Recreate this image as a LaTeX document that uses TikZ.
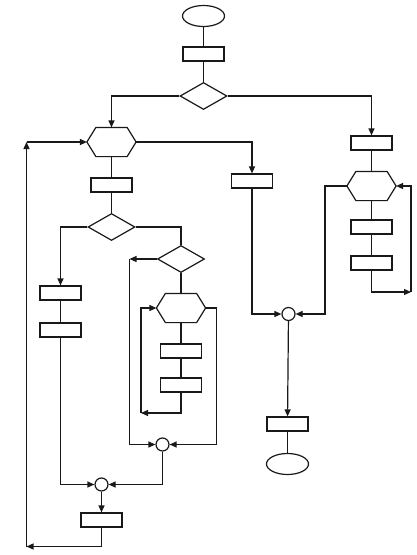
\documentclass[tikz,border=0pt]{standalone}
\usetikzlibrary{shapes.geometric,arrows.meta,calc}
\begin{document}
\begin{tikzpicture}[x=1pt,y=-1pt,
  line width=1.2pt, draw=black!90,
  box/.style={draw, rectangle, minimum width=41pt, minimum height=14pt, inner sep=0pt},
  term/.style={draw, ellipse, minimum width=42pt, minimum height=21pt, inner sep=0pt},
  dec/.style={draw, diamond, minimum width=47pt, minimum height=27pt, inner sep=0pt},
  hexb/.style={rectangle, minimum width=48pt, minimum height=28pt, inner sep=0pt},
  junc/.style={draw, circle, minimum size=13pt, inner sep=0pt},
  arr/.style={-{Triangle[length=7pt,width=6pt]}},
  lin/.style={-}]
\useasboundingbox (0,0) rectangle (417,555);
% nodes
\node[term] (start) at (203.5,16) {};
\node[box] (r0) at (203.5,54) {};
\node[dec] (d0) at (203.5,96) {};
\node[hexb] (h1) at (111.5,142) {};
\node[box] (r1) at (111.5,185) {};
\node[dec] (d1) at (111.5,227) {};
\node[box] (l1) at (60.5,293) {};
\node[box] (l2) at (60.5,330) {};
\node[dec] (d2) at (181,259) {};
\node[hexb] (h2) at (181,308) {};
\node[box] (r3) at (181,351) {};
\node[box] (r4) at (181,385) {};
\node[junc] (c1) at (162.5,444.5) {};
\node[junc] (c2) at (101.5,484.5) {};
\node[box] (rb) at (101.5,520) {};
\node[box] (m1) at (252,181) {};
\node[box] (R1) at (371.5,143) {};
\node[hexb] (h3) at (371.5,186) {};
\node[box] (R2) at (371.5,227) {};
\node[box] (R3) at (371.5,263) {};
\node[junc] (c3) at (288.5,314) {};
\node[box] (e1) at (287.5,424) {};
\node[term] (stop) at (287.5,464) {};
% hexagon outlines
\foreach \n in {h1,h2,h3}{
  \draw ($(\n.north west)+(9,0)$) -- ($(\n.north east)+(-9,0)$) -- (\n.east)
     -- ($(\n.south east)+(-9,0)$) -- ($(\n.south west)+(9,0)$) -- (\n.west) -- cycle;
}
% corner coordinates
\coordinate (cA) at (129.5,259);
\coordinate (cB) at (141,413);
\coordinate (cC) at (216.5,444.5);
\coordinate (cD) at (26.5,546.5);
\coordinate (cE) at (26.5,142);
\coordinate (cF) at (411,292);
\coordinate (cG) at (325,314);
% connectors
\draw (start) -- (r0) -- (d0);
\draw[arr] (d0.west) -| (h1.north);
\draw[arr] (d0.east) -| (R1.north);
\draw (h1) -- (r1) -- (d1);
\draw[arr] (h1.east) -| (m1.north);
\draw[arr] (d1.west) -| (l1.north);
\draw (d1.east) -| (d2.north);
\draw (l1) -- (l2);
\draw[arr] (l2.south) |- (c2.west);
\draw (d2) -- (h2);
\draw[arr] (d2.west) -- (cA);
\draw[arr] (cA) |- (c1.west);
\draw (h2) -- (r3) -- (r4);
\draw[arr] (r4.south) |- (cB);
\draw[arr] (cB) |- (h2.west);
\draw[arr] (h2.east) -| (cC) -- (c1.east);
\draw[arr] (c1.south) |- (c2.east);
\draw[arr] (c2) -- (rb);
\draw[arr] (rb.south) |- (cD);
\draw[arr] (cD) -- (cE);
\draw[arr] (cE) -- (h1.west);
\draw (R1) -- (h3) -- (R2) -- (R3);
\draw[arr] (R3.south) |- (cF);
\draw[arr] (cF) |- (h3.east);
\draw[arr] (h3.west) -| (cG) -- (c3.east);
\draw[arr] (m1.south) |- (c3.west);
\draw[arr] (c3) -- (e1);
\draw (e1) -- (stop);
\end{tikzpicture}
\end{document}
